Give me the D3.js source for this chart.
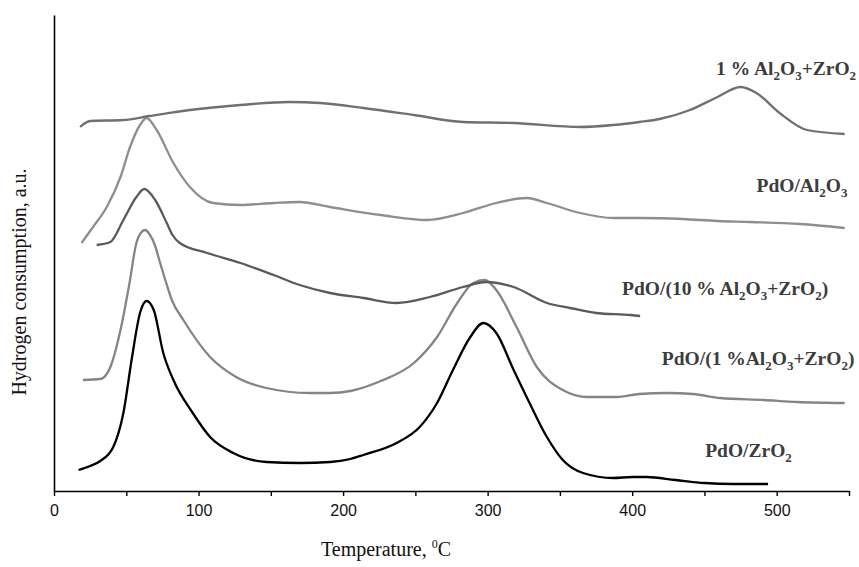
<!DOCTYPE html>
<html>
<head>
<meta charset="utf-8">
<script src="https://cdn.jsdelivr.net/npm/d3@7"></script>
<style>
  body { margin: 0; background: #fff; }
</style>
</head>
<body>
<div id="chart"></div>
<script>
// TPR profiles, temperature in C, hydrogen consumption in arbitrary units
var tZr = [17, 25, 32, 41, 48, 54, 59.5, 64, 69, 75.6, 82.6, 96, 108, 124, 147, 170, 191, 205, 214, 237, 253, 265, 276, 288, 297, 306, 318, 329, 341, 352, 366, 387, 400, 410, 430, 450, 470, 494]
var vZr = [21, 25, 30, 44, 78, 134, 178, 190, 181, 138, 111, 78, 54, 38, 29, 28, 29, 32, 36, 48, 64, 88, 121, 154, 168, 158, 121, 88, 54, 31, 18, 13, 14, 14, 11, 8, 7, 7]

var t1 = [20, 32, 36, 39, 46, 52, 57, 60, 63, 66, 70, 73, 77, 81.5, 89.5, 108, 126, 147, 177, 191, 205, 226, 249, 265, 279, 290, 298, 306, 320, 334, 352, 369, 389, 405, 424, 442, 461, 491, 514, 547]
var v1 = [111, 112, 116, 124, 161, 206, 248, 258, 261, 257, 245, 230, 211, 191, 171, 134, 114, 103, 98, 98, 100, 110, 128, 154, 188, 208, 211, 201, 164, 124, 101, 94, 94, 97, 98, 97, 93, 91, 89, 88]

var t10 = [29.5, 39, 48, 57, 62.5, 70, 78, 82, 87, 106, 129, 152, 170, 191, 214, 237, 260, 283, 299, 318, 341, 357, 375, 399, 405.5]
var v10 = [246, 249, 271, 294, 302, 291, 268, 256, 248, 238, 228, 216, 206, 198, 193, 188, 194, 204, 209, 204, 188, 183, 178, 176, 175]

var tAl = [19, 27, 36.5, 46, 52.6, 59.5, 64, 71, 82.6, 94, 110, 129, 152, 170, 191, 226, 258, 283, 306, 327, 341, 364, 387, 405, 435, 459, 482, 516, 547]
var vAl = [248, 264, 284, 314, 344, 366, 373, 361, 328, 304, 288, 286, 288, 289, 284, 276, 271, 278, 288, 293, 288, 278, 273, 273, 272, 270, 269, 267, 263]

var tTop = [18, 25, 48, 66, 94, 129, 163, 184, 214, 249, 283, 318, 364, 387, 405, 419, 440, 459, 475, 486, 502, 521, 547]
var vTop = [364, 370, 371, 375, 381, 386, 389, 388, 383, 376, 369, 368, 364, 366, 369, 372, 381, 394, 404, 398, 378, 361, 357]

var seriesNames = ["PdO/ZrO_2", "PdO/(1 %Al_2O_3+ZrO_2)", "PdO/(10 % Al_2O_3+ZrO_2)", "PdO/Al_2O_3", "1 % Al_2O_3+ZrO_2"]
var seriesT = [tZr, t1, t10, tAl, tTop]
var seriesV = [vZr, v1, v10, vAl, vTop]
var seriesColors = ["#000000", "#858585", "#5a5a5a", "#8e8e8e", "#707070"]

// where each curve name sits (temperature, a.u.)
var labelT = [450.5, 420.5, 393, 486, 458]
var labelV = [34, 126, 196, 299, 416]

var xTicks = [0, 50, 100, 150, 200, 250, 300, 350, 400, 450, 500, 550]

var svgW = 859, svgH = 567
var margin = { top: 15, right: 10, bottom: 76, left: 54 }

var svg = d3.select("#chart")
  .append("svg")
  .attr("width", svgW)
  .attr("height", svgH)

var x = d3.scaleLinear()
  .domain([0, 550])
  .range([margin.left, svgW - margin.right])

var y = d3.scaleLinear()
  .domain([0, 476])
  .range([svgH - margin.bottom, margin.top])

// x axis
var xAxis = svg.append("g")
  .attr("transform", "translate(0," + (svgH - margin.bottom) + ")")
  .call(d3.axisBottom(x)
    .tickValues(xTicks)
    .tickSize(5)
    .tickSizeOuter(0)
    .tickPadding(9)
    .tickFormat(function (d) { return d % 100 == 0 ? d : "" }))
xAxis.select(".domain").attr("stroke", "#000").attr("stroke-width", 1.6)
xAxis.selectAll(".tick line").attr("stroke", "#000").attr("stroke-width", 1.4)
xAxis.selectAll(".tick text")
  .style("font-family", "'Liberation Sans', Arial, sans-serif")
  .style("font-size", "16px")
  .attr("fill", "#111")

// y axis, just the line
svg.append("g")
  .attr("transform", "translate(" + margin.left + ",0)")
  .call(d3.axisLeft(y).tickValues([]).tickSizeOuter(0))
  .select(".domain").attr("stroke", "#000").attr("stroke-width", 1.6)

// curves
var line = d3.line()
  .x(function (d) { return x(d[0]) })
  .y(function (d) { return y(d[1]) })
  .curve(d3.curveMonotoneX)

seriesNames.forEach(function (name, i) {
  var pts = seriesT[i].map(function (t, j) { return [t, seriesV[i][j]] })
  svg.append("path")
    .datum(pts)
    .attr("d", line)
    .attr("fill", "none")
    .attr("stroke", seriesColors[i])
    .attr("stroke-width", 2.3)
    .attr("stroke-linejoin", "round")
})

// text with _n subscripts
function addLabel(sel, str, size) {
  var parts = str.split(/(_\d)/)
  var shifted = false
  parts.forEach(function (p) {
    if (p == "") return
    if (p[0] == "_") {
      sel.append("tspan").attr("dy", 5).style("font-size", Math.round(size * 0.65) + "px").text(p.slice(1))
      shifted = true
    } else {
      sel.append("tspan").attr("dy", shifted ? -5 : 0).text(p)
      shifted = false
    }
  })
}

seriesNames.forEach(function (name, i) {
  var t = svg.append("text")
    .attr("x", x(labelT[i]))
    .attr("y", y(labelV[i]))
    .style("font-family", "'Liberation Serif', 'Times New Roman', serif")
    .style("font-weight", "bold")
    .style("font-size", "19.5px")
    .attr("fill", "#3c3c3c")
  addLabel(t, name, 19.5)
})

// axis titles
var xt = svg.append("text")
  .attr("x", 386)
  .attr("y", 556)
  .attr("text-anchor", "middle")
  .style("font-family", "'Liberation Serif', 'Times New Roman', serif")
  .style("font-size", "20px")
  .attr("fill", "#111")
xt.append("tspan").text("Temperature, ")
xt.append("tspan").attr("dy", -8).style("font-size", "12px").text("0")
xt.append("tspan").attr("dy", 8).text("C")

svg.append("text")
  .attr("transform", "translate(26,282) rotate(-90)")
  .attr("text-anchor", "middle")
  .style("font-family", "'Liberation Serif', 'Times New Roman', serif")
  .style("font-size", "20px")
  .attr("fill", "#111")
  .text("Hydrogen consumption, a.u.")
</script>
</body>
</html>
